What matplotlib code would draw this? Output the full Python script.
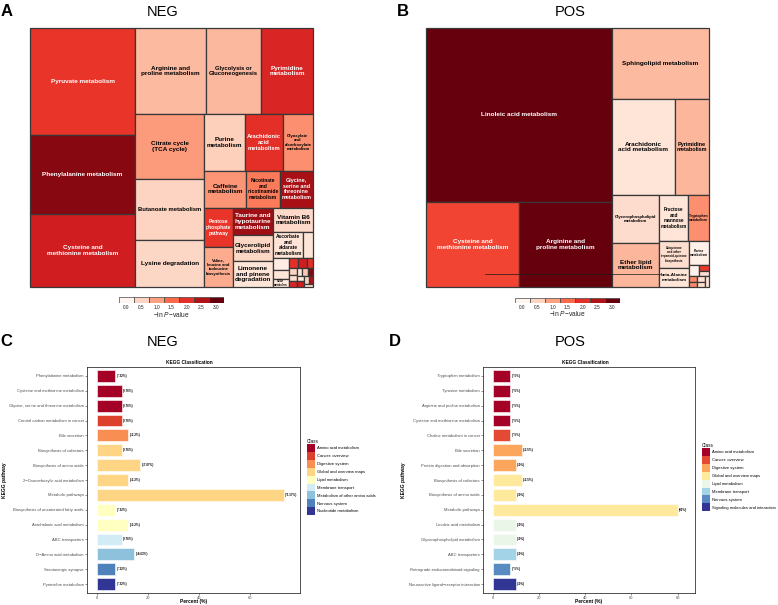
import numpy as np
import matplotlib
matplotlib.use('Agg')
import matplotlib.pyplot as plt
from matplotlib.patches import Rectangle, Patch
from matplotlib.lines import Line2D
from matplotlib.colors import LinearSegmentedColormap, to_rgb

plt.rcParams['font.family'] = ['Liberation Sans', 'DejaVu Sans']
plt.rcParams['mathtext.fontset'] = 'custom'
plt.rcParams['mathtext.rm'] = 'Liberation Sans'
plt.rcParams['mathtext.it'] = 'Liberation Sans:italic'

# ---------------- Treemap data (A: NEG) ----------------
neg_pathways = [
    "Pyruvate metabolism", "Phenylalanine metabolism", "Cysteine and\nmethionine metabolism",
    "Arginine and\nproline metabolism", "Glycolysis or\nGluconeogenesis", "Pyrimidine\nmetabolism",
    "Citrate cycle\n(TCA cycle)", "Butanoate metabolism", "Lysine degradation",
    "Purine\nmetabolism", "Arachidonic\nacid\nmetabolism", "Glyoxylate\nand\ndicarboxylate\nmetabolism",
    "Caffeine\nmetabolism", "Nicotinate\nand\nnicotinamide\nmetabolism", "Glycine,\nserine and\nthreonine\nmetabolism",
    "Pentose\nphosphate\npathway", "Valine,\nleucine and\nisoleucine\nbiosynthesis", "Taurine and\nhypotaurine\nmetabolism",
    "Glycerolipid\nmetabolism", "Limonene\nand pinene\ndegradation", "Vitamin B6\nmetabolism",
    "Ascorbate\nand\naldarate\nmetabolism", "Phenylalanine,\ntyrosine and\ntryptophan\nbiosynthesis",
    "Histidine metabolism", "Aminoacyl-tRNA\nbiosynthesis", "Sulfur\nmetabolism",
    "Tyrosine metabolism", "Tryptophan metabolism", "Riboflavin metabolism", "Galactose metabolism",
    "Pantothenate and CoA biosynthesis", "Fatty acid biosynthesis", "Propanoate metabolism",
    "beta-Alanine metabolism", "Starch and sucrose metabolism", "Nitrogen metabolism",
    "Thiamine metabolism", "Folate biosynthesis", "Selenocompound metabolism", "Retinol metabolism",
]
neg_size = [11235, 8295, 7665, 6106, 4730, 4500, 4450, 4209, 3243, 2296, 2128, 1680,
            1554, 1258, 1221, 1130, 1125, 1120, 1045, 1040, 984, 760, 260, 190,
            140, 125, 95, 85, 60, 55, 50, 50, 45, 45, 40, 40, 40, 35, 35, 30]
neg_lnp = [1.95, 2.8, 2.2, 0.75, 0.78, 2.1, 1.05, 0.5, 0.48, 0.55, 2.0, 1.15,
           1.1, 1.35, 2.6, 1.95, 0.9, 2.65, 0.48, 0.3, 0.45, 0.3, 0.3, 0.15,
           0.3, 0.2, 2.0, 2.2, 2.0, 0.5, 0.4, 2.1, 0.3, 0.6, 2.8, 0.2, 2.2, 0.5, 2.5, 0.4]

# ---------------- Treemap data (B: POS) ----------------
pos_pathways = [
    "Linoleic acid metabolism", "Cysteine and\nmethionine metabolism", "Arginine and\nproline metabolism",
    "Sphingolipid metabolism", "Arachidonic\nacid metabolism", "Pyrimidine\nmetabolism",
    "Glycerophospholipid\nmetabolism", "Ether lipid\nmetabolism", "Fructose\nand\nmannose\nmetabolism",
    "Tryptophan\nmetabolism", "Ubiquinone\nand other\nterpenoid-quinone\nbiosynthesis",
    "beta-Alanine\nmetabolism", "Purine\nmetabolism",
    "Histidine metabolism", "Tyrosine metabolism", "Sulfur metabolism", "Galactose metabolism",
    "Riboflavin metabolism", "Butanoate metabolism", "Lysine degradation", "Nitrogen metabolism",
]
pos_size = [32190, 7905, 7820, 6860, 6076, 3300, 2256, 2112, 1305, 945, 810, 570, 480,
            110, 60, 50, 45, 45, 45, 40, 40]
pos_lnp = [3.0, 1.8, 3.0, 0.75, 0.3, 0.8, 0.42, 0.8, 0.3, 1.15, 0.4, 0.3, 0.1,
           0.05, 1.9, 0.4, 1.2, 1.2, 0.35, 0.4, 0.3]

legend_ticks = [0.0, 0.5, 1.0, 1.5, 2.0, 2.5, 3.0]

# ---------------- Bar chart data (C: NEG) ----------------
neg_kegg = ["Phenylalanine metabolism", "Cysteine and methionine metabolism",
            "Glycine, serine and threonine metabolism", "Central carbon metabolism in cancer",
            "Bile secretion", "Biosynthesis of cofactors", "Biosynthesis of amino acids",
            "2\u2212Oxocarboxylic acid metabolism", "Metabolic pathways",
            "Biosynthesis of unsaturated fatty acids", "Arachidonic acid metabolism",
            "ABC transporters", "D\u2212Amino acid metabolism", "Serotonergic synapse",
            "Pyrimidine metabolism"]
neg_pct = [7.32, 9.76, 9.76, 9.76, 12.2, 9.76, 17.07, 12.2, 73.17, 7.32, 12.2, 9.76, 14.63, 7.32, 7.32]
neg_class = [0, 0, 0, 1, 2, 3, 3, 3, 3, 4, 4, 5, 6, 7, 8]
neg_class_names = ["Amino acid metabolism", "Cancer: overview", "Digestive system",
                   "Global and overview maps", "Lipid metabolism", "Membrane transport",
                   "Metabolism of other amino acids", "Nervous system", "Nucleotide metabolism"]

# ---------------- Bar chart data (D: POS) ----------------
pos_kegg = ["Tryptophan metabolism", "Tyrosine metabolism", "Arginine and proline metabolism",
            "Cysteine and methionine metabolism", "Choline metabolism in cancer", "Bile secretion",
            "Protein digestion and absorption", "Biosynthesis of cofactors",
            "Biosynthesis of amino acids", "Metabolic pathways", "Linoleic acid metabolism",
            "Glycerophospholipid metabolism", "ABC transporters",
            "Retrograde endocannabinoid signaling", "Neuroactive ligand\u2212receptor interaction"]
pos_pct = [7.5, 7.5, 7.5, 7.5, 7.5, 12.5, 10.0, 12.5, 10.0, 80.0, 10.0, 10.0, 10.0, 7.5, 10.0]
pos_class = [0, 0, 0, 0, 1, 2, 2, 3, 3, 3, 4, 4, 5, 6, 7]
pos_class_names = ["Amino acid metabolism", "Cancer: overview", "Digestive system",
                   "Global and overview maps", "Lipid metabolism", "Membrane transport",
                   "Nervous system", "Signaling molecules and interaction"]

# ---------------- styles ----------------
reds = LinearSegmentedColormap.from_list('reds', ['#FFF5F0', '#FEE0D2', '#FCBBA1', '#FC9272', '#FB6A4A',
                                                  '#EF3B2C', '#CB181D', '#A50F15', '#67000D'])
rdylbu = LinearSegmentedColormap.from_list('rdylbu', ['#A50026', '#D73027', '#F46D43', '#FDAE61', '#FEE090',
                                                      '#FFFFBF', '#E0F3F8', '#ABD9E9', '#74ADD1', '#4575B4',
                                                      '#313695'])


def ramp(n):
    return [rdylbu(i / (n - 1)) for i in range(n)]


W, H = 778, 605
fig = plt.figure(figsize=(W / 100, H / 100), dpi=100)
renderer = fig.canvas.get_renderer()


def ax_px(l, t, r, b):
    return fig.add_axes([l / W, 1 - b / H, (r - l) / W, (b - t) / H])


def pivot(items, x, y, w, h):
    n = len(items)
    if n == 0:
        return []
    if n == 1:
        return [(items[0][0], x, y, w, h)]
    total = sum(a for _, a in items)
    p = items[0]
    rest = items[1:]
    wide = w >= h
    best = None
    for k in range(len(rest) + 1):
        s = p[1] + sum(a for _, a in rest[:k])
        if wide:
            sw = w * s / total
            ph = h * p[1] / s
            ar = max(sw / ph, ph / sw)
        else:
            sh = h * s / total
            pw = w * p[1] / s
            ar = max(sh / pw, pw / sh)
        if best is None or ar < best[0] - 1e-9:
            best = (ar, k)
    k = best[1]
    L2, L3 = rest[:k], rest[k:]
    s = p[1] + sum(a for _, a in L2)
    out = []
    if wide:
        sw = w * s / total
        ph = h * p[1] / s
        out.append((p[0], x, y, sw, ph))
        out += pivot(L2, x, y + ph, sw, h - ph)
        out += pivot(L3, x + sw, y, w - sw, h)
    else:
        sh = h * s / total
        pw = w * p[1] / s
        out.append((p[0], x, y, pw, sh))
        out += pivot(L2, x + pw, y, w - pw, sh)
        out += pivot(L3, x, y + sh, w, h - sh)
    return out


def draw_treemap(l, t, r, b, names, sizes, lnp):
    ax = ax_px(l, t, r, b)
    tw, th = r - l, b - t
    order = sorted(range(len(sizes)), key=lambda i: -sizes[i])
    tot = float(sum(sizes))
    items = [(i, sizes[i] * tw * th / tot) for i in order]
    rects = pivot(items, 0, 0, tw, th)
    ax.set_xlim(0, tw)
    ax.set_ylim(th, 0)
    ax.axis('off')
    base = 4.6
    for i, x, y, w, h in rects:
        c = reds(min(lnp[i], 3.0) / 3.0)
        ax.add_patch(Rectangle((x, y), w, h, facecolor=c, edgecolor='#383838', lw=0.9, clip_on=False))
        rr, gg, bb_ = to_rgb(c)
        lum = 0.299 * rr + 0.587 * gg + 0.114 * bb_
        tc = 'white' if lum < 0.55 else 'black'
        txt = ax.text(x + w / 2, y + h / 2, names[i], ha='center', va='center', fontsize=base,
                      weight='bold', color=tc, linespacing=1.15, clip_on=False)
        ext = txt.get_window_extent(renderer)
        s = min(1.0, 0.9 * w / ext.width, 0.85 * h / ext.height)
        if base * s < 1.3:
            txt.remove()
        else:
            txt.set_fontsize(base * s)
    return ax


def draw_cbar(l, t, r, b):
    cax = ax_px(l, t, r, b)
    xs = np.arange(len(legend_ticks))
    cax.bar(xs, np.ones(len(xs)), width=1.0, bottom=0, color=[reds(v / 3.0) for v in legend_ticks],
            edgecolor='#444444', lw=0.5, align='center')
    cax.set_xlim(-0.5, len(xs) - 0.5)
    cax.set_ylim(0, 1)
    cax.axis('off')
    for k, v in zip(xs, legend_ticks):
        cax.text(k, -0.35, f'{v:.1f}', ha='center', va='top', fontsize=3.4, color='#222222', clip_on=False)
    cax.text((len(xs) - 1) / 2, -1.85, '\u2212ln $P$\u2212value', ha='center', va='center',
             fontsize=4.8, color='#222222', clip_on=False)


def fmt(v):
    s = f'{v:.2f}'.rstrip('0').rstrip('.')
    return f'({s}%)'


def draw_bars(l, t, r, b, cats, vals, cls, cnames, xlim, title_x):
    ax = ax_px(l, t, r, b)
    cols = ramp(len(cnames))
    y = np.arange(len(cats))
    ax.barh(y, vals, height=0.8, color=[cols[c] for c in cls], edgecolor='white', lw=0.4)
    for yi, v in zip(y, vals):
        ax.text(v + 0.6, yi, fmt(v), ha='left', va='center', fontsize=2.2, weight='bold', color='black')
    ax.set_ylim(len(cats) - 0.4, -0.6)
    ax.set_xlim(*xlim)
    ax.set_yticks(y)
    ax.set_yticklabels(cats, fontsize=3.0, color='#4D4D4D')
    xt = [v for v in [0, 20, 40, 60, 80] if v <= xlim[1]]
    ax.set_xticks(xt)
    ax.set_xticklabels([str(v) for v in xt], fontsize=2.9, color='#4D4D4D')
    ax.tick_params(length=1.3, width=0.4, color='#333333', pad=1.0)
    for sp in ax.spines.values():
        sp.set_linewidth(0.6)
        sp.set_color('#333333')
    fig.text(title_x / W, 1 - 362 / H, 'KEGG Classification', ha='center', va='center', fontsize=3.4,
             weight='bold')
    fig.text(((l + r) / 2) / W, 1 - 602 / H, 'Percent (%)', ha='center', va='center', fontsize=3.5,
             weight='bold')
    handles = [Patch(facecolor=c, edgecolor='none') for c in cols]
    return ax, handles


# ---------------- Panels A and B ----------------
draw_treemap(30, 28, 313, 287, neg_pathways, neg_size, neg_lnp)
axb = draw_treemap(426, 28, 709, 287, pos_pathways, pos_size, pos_lnp)
# thin stray rule visible across the lower part of panel B in the original figure
fig.add_artist(Line2D([485 / W, 660 / W], [1 - 273.5 / H, 1 - 273.5 / H], color='#1a1a1a', lw=0.5))
draw_cbar(119, 297, 224, 303)
draw_cbar(515, 297.5, 620, 303)

fig.text(1 / W, 1 - 11 / H, 'A', fontsize=12, weight='bold', ha='left', va='center')
fig.text(163 / W, 1 - 12 / H, 'NEG', fontsize=10.5, ha='center', va='center')
fig.text(397 / W, 1 - 11 / H, 'B', fontsize=12, weight='bold', ha='left', va='center')
fig.text(570 / W, 1 - 12 / H, 'POS', fontsize=10.5, ha='center', va='center')

# ---------------- Panels C and D ----------------
axc, hc = draw_bars(87, 367, 300, 593, neg_kegg, neg_pct, neg_class, neg_class_names, (-3.8, 79.6), 189)
axd, hd = draw_bars(483, 367, 695, 593, pos_kegg, pos_pct, pos_class, pos_class_names, (-4.2, 87.5), 585)

fig.text(5 / W, 1 - 480 / H, 'KEGG pathway', rotation=90, fontsize=3.5, weight='bold', ha='center', va='center')
fig.text(404 / W, 1 - 480 / H, 'KEGG pathway', rotation=90, fontsize=3.5, weight='bold', ha='center', va='center')

leg_kw = dict(loc='upper left', bbox_transform=fig.transFigure, title='Class', fontsize=3.0,
              title_fontsize=3.4, frameon=False, handlelength=1.92, handleheight=2.54, labelspacing=0.0,
              handletextpad=0.5, borderpad=0, borderaxespad=0, alignment='left')
fig.legend(hc, neg_class_names, bbox_to_anchor=(307 / W, 1 - 439 / H), **leg_kw)
fig.legend(hd, pos_class_names, bbox_to_anchor=(702 / W, 1 - 443 / H), **leg_kw)

fig.text(0 / W, 1 - 342 / H, 'C', fontsize=12, weight='bold', ha='left', va='center')
fig.text(163 / W, 1 - 342 / H, 'NEG', fontsize=10.5, ha='center', va='center')
fig.text(389 / W, 1 - 342 / H, 'D', fontsize=12, weight='bold', ha='left', va='center')
fig.text(570 / W, 1 - 342 / H, 'POS', fontsize=10.5, ha='center', va='center')

fig.savefig('out.png', dpi=100)
